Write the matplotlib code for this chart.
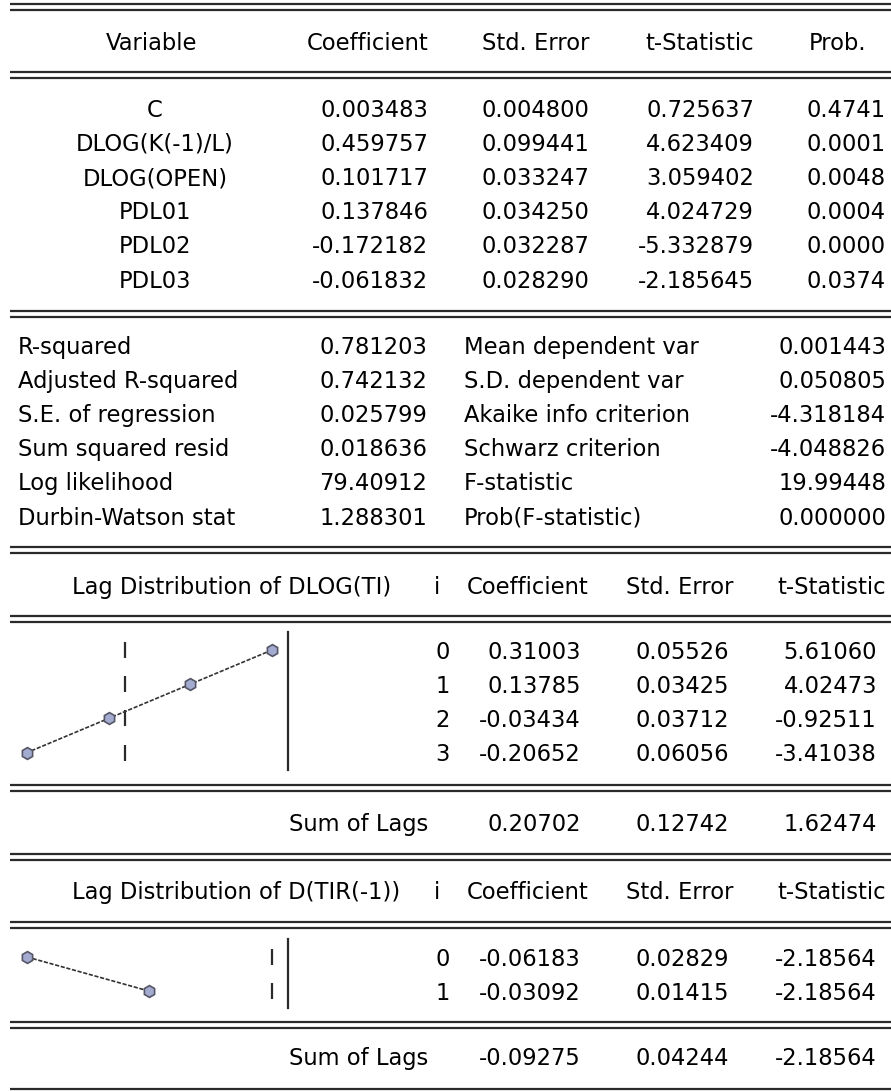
import matplotlib
matplotlib.use("Agg")
import matplotlib.pyplot as plt

# ---------------- data ----------------
variables = ["C", "DLOG(K(-1)/L)", "DLOG(OPEN)", "PDL01", "PDL02", "PDL03"]
coefficients = ["0.003483", "0.459757", "0.101717", "0.137846", "-0.172182", "-0.061832"]
std_errors = ["0.004800", "0.099441", "0.033247", "0.034250", "0.032287", "0.028290"]
t_stats = ["0.725637", "4.623409", "3.059402", "4.024729", "-5.332879", "-2.185645"]
probs = ["0.4741", "0.0001", "0.0048", "0.0004", "0.0000", "0.0374"]

stat_labels_left = ["R-squared", "Adjusted R-squared", "S.E. of regression",
                    "Sum squared resid", "Log likelihood", "Durbin-Watson stat"]
stat_values_left = ["0.781203", "0.742132", "0.025799", "0.018636", "79.40912", "1.288301"]
stat_labels_right = ["Mean dependent var", "S.D. dependent var", "Akaike info criterion",
                     "Schwarz criterion", "F-statistic", "Prob(F-statistic)"]
stat_values_right = ["0.001443", "0.050805", "-4.318184", "-4.048826", "19.99448", "0.000000"]

lag1_title = "Lag Distribution of DLOG(TI)"
lag1_i = [0, 1, 2, 3]
lag1_coef = [0.31003, 0.13785, -0.03434, -0.20652]
lag1_se = [0.05526, 0.03425, 0.03712, 0.06056]
lag1_t = [5.61060, 4.02473, -0.92511, -3.41038]
lag1_sum = [0.20702, 0.12742, 1.62474]

lag2_title = "Lag Distribution of D(TIR(-1))"
lag2_i = [0, 1]
lag2_coef = [-0.06183, -0.03092]
lag2_se = [0.02829, 0.01415]
lag2_t = [-2.18564, -2.18564]
lag2_sum = [-0.09275, 0.04244, -2.18564]

header_main = ["Variable", "Coefficient", "Std. Error", "t-Statistic", "Prob."]
header_lag = ["i", "Coefficient", "Std. Error", "t-Statistic"]

# ---------------- layout ----------------
W, H = 891, 1091
FS = 16.3
LINE_C = "#2a2a2a"
ROW = 34.2

fig = plt.figure(figsize=(W / 100, H / 100), dpi=100)
ax = fig.add_axes([0, 0, 1, 1])
ax.set_xlim(0, W)
ax.set_ylim(H, 0)
ax.axis("off")


def txt(x, y, s, ha="right"):
    ax.text(x, y + 8.6, s, ha=ha, va="baseline", fontsize=FS,
            family="DejaVu Sans", color="#000000")


def dline(y):
    ax.plot([10, W], [y, y], color=LINE_C, lw=1.6, solid_capstyle="butt")
    ax.plot([10, W], [y + 6, y + 6], color=LINE_C, lw=1.6, solid_capstyle="butt")


def sline(y):
    ax.plot([10, W], [y, y], color=LINE_C, lw=1.6, solid_capstyle="butt")


# header
dline(3.5)
txt(152, 41, header_main[0], ha="center")
txt(428, 41, header_main[1])
txt(589, 41, header_main[2])
txt(754, 41, header_main[3])
txt(866, 41, header_main[4])
dline(72)

# coefficient rows
y0 = 108
for k, name in enumerate(variables):
    y = y0 + k * ROW
    txt(155, y, name, ha="center")
    txt(428, y, coefficients[k])
    txt(589, y, std_errors[k])
    txt(754, y, t_stats[k])
    txt(886, y, probs[k])
dline(311)

# statistics
ys0 = 345
for k in range(len(stat_labels_left)):
    y = ys0 + k * ROW
    txt(18, y, stat_labels_left[k], ha="left")
    txt(427, y, stat_values_left[k])
    txt(464, y, stat_labels_right[k], ha="left")
    txt(886, y, stat_values_right[k])
dline(547)


def lag_block(title, y_title, lags, coef, se, tstat, sums, y_rows, y_sum):
    txt(72, y_title, title, ha="left")
    txt(437, y_title, header_lag[0], ha="center")
    txt(588, y_title, header_lag[1])
    txt(734, y_title, header_lag[2])
    txt(886, y_title, header_lag[3])
    for k, lag in enumerate(lags):
        y = y_rows + k * ROW
        txt(450, y, f"{lag:d}")
        txt(581, y, f"{coef[k]:.5f}")
        txt(729, y, f"{se[k]:.5f}")
        txt(877, y, f"{tstat[k]:.5f}")
    txt(428, y_sum, "Sum of Lags")
    txt(581, y_sum, f"{sums[0]:.5f}")
    txt(729, y_sum, f"{sums[1]:.5f}")
    txt(877, y_sum, f"{sums[2]:.5f}")

    # small lag plot
    n = len(lags)
    top = y_rows
    bottom = y_rows + (n - 1) * ROW
    left, right = 27, 272
    pax = fig.add_axes([left / W, 1 - bottom / H, (right - left) / W,
                        (bottom - top) / H])
    lo = min(min(coef), 0.0)
    hi = max(max(coef), 0.0)
    pax.set_xlim(lo, hi)
    pax.set_ylim(n - 1, 0)
    pax.axis("off")
    pax.plot([0.0] * n, lags, linestyle="none", marker="|", markersize=12,
             markeredgewidth=1.6, color=LINE_C, clip_on=False)
    pax.plot(coef, lags, color="#333333", lw=1.2, linestyle=(0, (2.5, 1)),
             marker="h", markersize=8.5, markerfacecolor="#a3acd0",
             markeredgecolor="#555566", markeredgewidth=1.2, clip_on=False)
    ax.plot([288, 288], [top - 18, bottom + 17], color=LINE_C, lw=1.6)


lag_block(lag1_title, 585, lag1_i, lag1_coef, lag1_se, lag1_t, lag1_sum, 650, 822)
dline(616)
dline(785)
dline(854)
lag_block(lag2_title, 890, lag2_i, lag2_coef, lag2_se, lag2_t, lag2_sum, 957, 1056)
dline(922)
dline(1022)
sline(1089)

fig.savefig("out.png", dpi=100)
